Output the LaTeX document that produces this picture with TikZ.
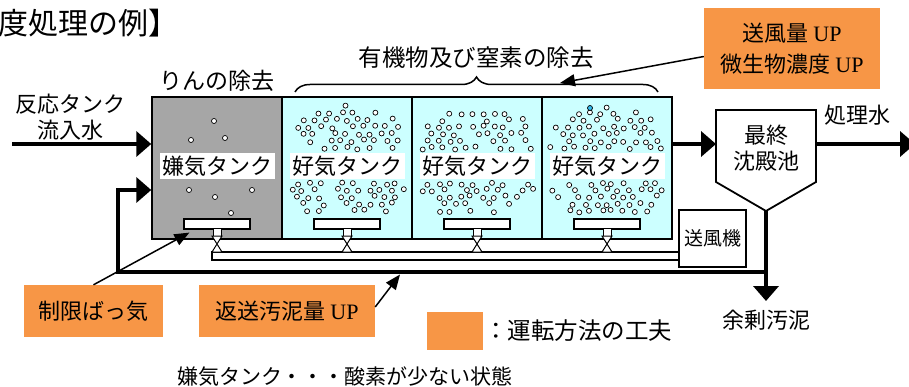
\documentclass[tikz,border=0pt]{standalone}
\usepackage{fontspec}
\setmainfont{Noto Sans CJK JP}
\newfontfamily\upfont{Liberation Serif}
\usetikzlibrary{arrows.meta,positioning,decorations.pathreplacing}
\definecolor{anaerobic}{HTML}{A6A6A6}
\definecolor{aerobic}{HTML}{CCFFFF}
\definecolor{operation}{HTML}{F79646}
\definecolor{bubbleblue}{HTML}{33BBEE}
\tikzset{
  flow/.style={line width=4.5pt, -{Triangle[length=15pt,width=25pt]}},
  pointer/.style={line width=1.5pt, -{Triangle[length=15pt,width=12pt]}},
  tank/.style={draw, line width=1.5pt, minimum width=130pt, minimum height=142pt, inner sep=0pt},
  txt/.style={font=\fontsize{22}{26}\selectfont, inner sep=0pt, align=center},
  tanklabel/.style={txt, fill=white, inner xsep=2.5pt, inner ysep=3pt},
  opbox/.style={fill=operation, font=\fontsize{22}{31}\selectfont, align=center, inner sep=0pt},
  diffuser/.style={draw, fill=white, line width=1.2pt, minimum width=66pt, minimum height=10pt, inner sep=0pt},
  bubble/.style={draw, fill=white, line width=0.7pt},
}
\begin{document}
\begin{tikzpicture}[x=1pt, y=-1pt]
\useasboundingbox (0,0) rectangle (909,387);
%%%%% Title %%%%%
\node[txt, anchor=west, font=\fontsize{30}{34}\selectfont] (title) at (-2,23) {度処理の例】};
%%%%% Reaction tanks %%%%%
\node[tank, fill=anaerobic] (anaer) at (217,168) {};
\foreach \i in {1,2,3}{
  \node[tank, fill=aerobic] (aer\i) at ({217+130*\i},168) {};
}
% bubbles
\foreach \bx/\by in {214/121,191/140,225/138,189/190,215/197,252/190,231/213}{
  \draw[bubble] (\bx,\by) circle (2.5pt);
}
\pgfmathsetseed{5}
\foreach \c in {347,477,607}{
  \foreach \row/\half/\shift in {107/5/0,113/30/5.5,120/44/0,127/52/5.5,134/54/0,141/56/5.5,148/56/0,
                                 184/56/5.5,190/56/0,197/54/5.5,204/48/0,211/40/5.5}{
    \foreach \k in {-5,...,5}{
      \pgfmathsetmacro\keep{(abs(11*\k+\shift)<=\half)*(rnd>0.22)}
      \ifdim\keep pt>0.5pt
        \pgfmathsetmacro\bx{\c+11*\k+\shift+rand*2}
        \pgfmathsetmacro\by{\row+rand*1.5}
        \draw[bubble] (\bx,\by) circle (2.5pt);
      \fi
    }
  }
}
\draw[bubble, fill=bubbleblue] (590,108) circle (2.5pt);
% tank labels
\node[tanklabel] (anaerlab) at (217,166) {嫌気タンク};
\foreach \i in {1,2,3}{
  \node[tanklabel] (aerlab\i) at ({217+130*\i},166) {好気タンク};
}
%%%%% Air supply %%%%%
\node[draw, line width=1.2pt, minimum width=67pt, minimum height=57pt, inner sep=0pt, font=\fontsize{19}{22}\selectfont] (blower) at (712.5,238.5) {送風機};
\draw[fill=white, line width=1.2pt] (212,252) rectangle (blower.west |- 0,260);
\foreach \i in {0,1,2,3}{
  \node[diffuser] (diff\i) at ({217+130*\i},224) {};
  \draw[fill=white, line width=1pt] ({213+130*\i},229) rectangle ({221+130*\i},236);
  \draw[fill=white, line width=1pt] ({212+130*\i},236) -- ({222+130*\i},236) -- ({212+130*\i},252) -- ({222+130*\i},252) -- cycle;
}
%%%%% Final settling tank %%%%%
\draw[fill=white, line width=1.8pt] (716,110) -- (816,110) -- (816,182) -- (766,211) -- (716,182) -- cycle;
\node[txt] (settle) at (766,148) {最終\\沈殿池};
\coordinate (settlein) at (716,144);
\coordinate (settleout) at (816,144);
\coordinate (settletip) at (766,211);
\coordinate (outflow) at (915,144);
\coordinate (excess) at (766,301);
\coordinate (split) at (766,272);
\coordinate (inflow) at (12,144);
\coordinate (returnup) at (118,190);
%%%%% Flows %%%%%
\draw[flow] (inflow) -- (anaer.west |- inflow);
\draw[flow] (aer3.east |- settlein) -- (settlein);
\draw[flow] (settleout) -- (outflow);
\draw[flow] (settletip) -- (excess);
\draw[flow] (split) -| (returnup) -- (anaer.west |- returnup);
\node[txt] (inlab) at (70,117) {反応タンク\\流入水};
\node[txt] (outlab) at (857,115) {処理水};
\node[txt] (excesslab) at (766,320) {余剰汚泥};
%%%%% Removal targets %%%%%
\node[txt, font=\fontsize{23}{26}\selectfont] (plab) at (217,81) {りんの除去};
\draw[line width=1.5pt, decorate, decoration={brace, amplitude=15pt}] (295,92) -- (658,92);
\coordinate (bracemark) at (560,83);
\node[txt, font=\fontsize{23.5}{26}\selectfont] (nlab) at (476,58) {有機物及び窒素の除去};
%%%%% Operation measures %%%%%
\node[opbox, minimum width=176pt, minimum height=81pt] (airup) at (792,48.5) {送風量 {\upfont UP}\\微生物濃度 {\upfont UP}};
\node[opbox, minimum width=139pt, minimum height=52pt] (limited) at (93.5,311) {制限ばっ気};
\node[opbox, minimum width=176pt, minimum height=52pt] (sludgeup) at (287,311) {返送汚泥量 {\upfont UP}};
\draw[pointer] ([yshift=-8pt]airup.west) -- (bracemark);
\draw[pointer] (limited.north) -- ([xshift=6pt,yshift=-3pt]diff0.south west);
\draw[pointer] ([yshift=4pt]sludgeup.east) -- (400,274.5);
%%%%% Legend %%%%%
\node[fill=operation, minimum width=56pt, minimum height=38pt, inner sep=0pt] (legend) at (455,331) {};
\node[txt, anchor=west, font=\fontsize{23.5}{26}\selectfont] (legendtxt) at ([xshift=1pt]legend.east) {：運転方法の工夫};
\node[txt, font=\fontsize{21}{24}\selectfont] (note) at (345,377) {嫌気タンク・・・酸素が少ない状態};
\end{tikzpicture}
\end{document}
